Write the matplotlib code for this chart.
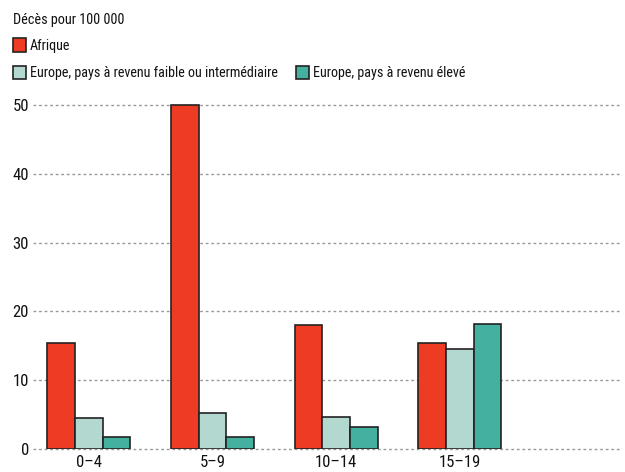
import matplotlib
matplotlib.use("Agg")
import matplotlib.pyplot as plt
from matplotlib.patches import Rectangle
from matplotlib import font_manager
from matplotlib.font_manager import FontProperties
import numpy as np

categories = ["0–4", "5–9", "10–14", "15–19"]
afrique = [15.4, 50.0, 18.1, 15.4]
europe_low = [4.5, 5.3, 4.65, 14.5]
europe_high = [1.7, 1.7, 3.2, 18.2]
series_names = ["Afrique", "Europe, pays à revenu faible ou intermédiaire", "Europe, pays à revenu élevé"]
colors = ["#EE3B24", "#B2D8D0", "#44B0A0"]
yticks = [0, 10, 20, 30, 40, 50]

# find a condensed font file
files = [f.fname for f in font_manager.fontManager.ttflist]
fpath = None
for key in ["RobotoCondensed-Regular", "LiberationSansNarrow-Regular", "DejaVuSansCondensed.ttf"]:
    for fn in files:
        if key in fn:
            fpath = fn
            break
    if fpath:
        break

def fp(size):
    if fpath:
        return FontProperties(fname=fpath, size=size)
    return FontProperties(family="DejaVu Sans", size=size)

fig = plt.figure(figsize=(6.25, 4.72), dpi=100)
ax = fig.add_axes([0.053, 0.0487, 0.94, 0.7433])

x = np.arange(len(categories))
w = 0.224
for i, (vals, c) in enumerate(zip([afrique, europe_low, europe_high], colors)):
    ax.bar(x + (i - 1) * w, vals, width=w, color=c, edgecolor="#222222", linewidth=1.2, zorder=3)

ax.set_ylim(0, 51)
ax.set_xlim(-0.45, 4.3)
ax.set_yticks(yticks)
ax.set_xticks(x)
ax.set_xticklabels(categories)
ax.yaxis.grid(True, linestyle=(0, (2, 2)), color="#999999", linewidth=1, zorder=0)
for gl in ax.get_ygridlines():
    gl.set_clip_on(False)
for s in ax.spines.values():
    s.set_visible(False)
ax.tick_params(axis="both", length=0, colors="#111111")
ax.tick_params(axis="y", pad=3)
ax.tick_params(axis="x", pad=4)
for lab in ax.get_xticklabels() + ax.get_yticklabels():
    lab.set_fontproperties(fp(12))

fig.text(13 / 625, 1 - 20 / 472, "Décès pour 100 000", fontproperties=fp(10.3), va="center", ha="left", color="#111111")

def leg(xp, yp, c, label):
    fig.add_artist(Rectangle((xp / 625, 1 - (yp + 6.5) / 472), 13 / 625, 13 / 472,
                             facecolor=c, edgecolor="#222222", linewidth=1.2, transform=fig.transFigure))
    fig.text((xp + 17) / 625, 1 - (yp + 1) / 472, label, fontproperties=fp(10.2), va="center", ha="left", color="#111111")

leg(13, 45, colors[0], series_names[0])
leg(13, 72.5, colors[1], series_names[1])
leg(296, 72.5, colors[2], series_names[2])

fig.savefig("out.png", dpi=100)
